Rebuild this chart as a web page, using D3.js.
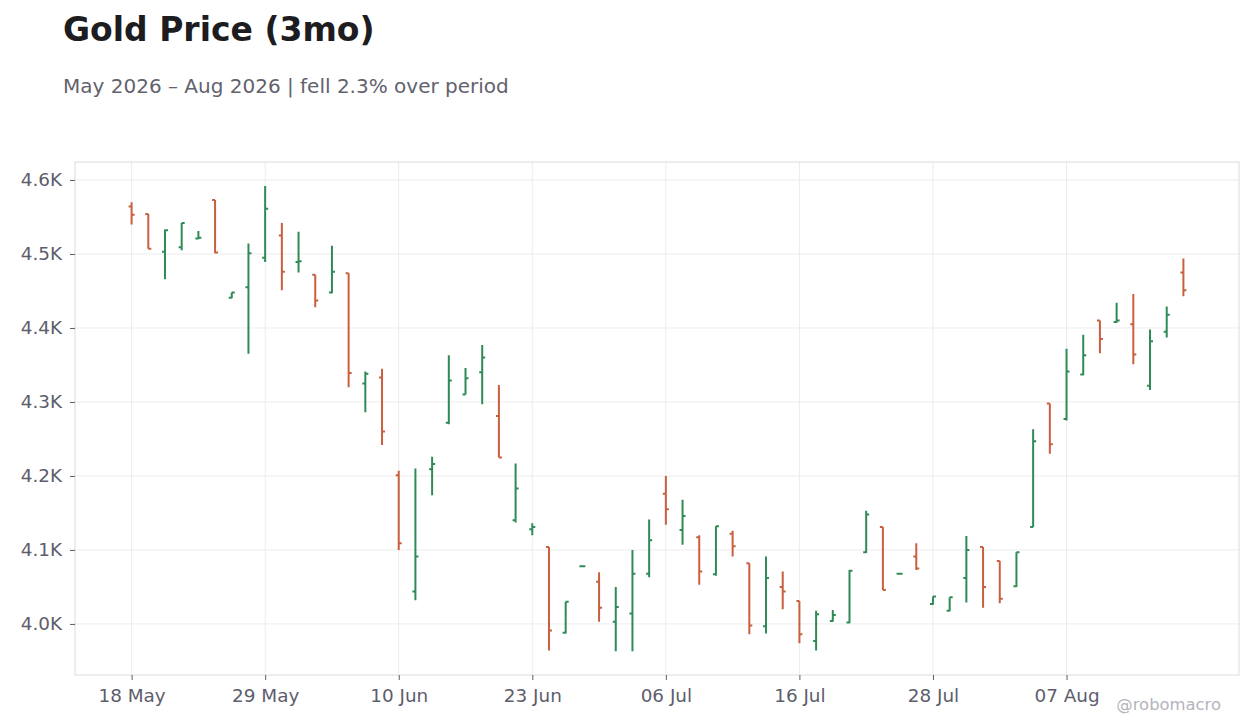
<!DOCTYPE html>
<html>
<head>
<meta charset="utf-8">
<title>Gold Price (3mo)</title>
<script src="https://cdn.jsdelivr.net/npm/d3@7"></script>
<style>
  body { margin: 0; background: #fff; font-family: "DejaVu Sans", sans-serif; }
  .title { font-size: 33px; font-weight: bold; fill: #1c1c21; }
  .subtitle { font-size: 20px; fill: #62626e; }
  .axis text { font-size: 18.4px; fill: #5d5e6c; font-family: "DejaVu Sans", sans-serif; }
  .axis line { stroke: #5d5e6c; }
  .grid line { stroke: #ececec; }
  .watermark { font-size: 16.4px; fill: #b4b4bc; }
</style>
</head>
<body>
<svg id="chart"></svg>
<script>
// trading days (weekends and US holidays skipped)
const dates = [
  '2026-05-18','2026-05-19','2026-05-20','2026-05-21','2026-05-22','2026-05-26','2026-05-27','2026-05-28',
  '2026-05-29','2026-06-01','2026-06-02','2026-06-03','2026-06-04','2026-06-05','2026-06-08','2026-06-09',
  '2026-06-10','2026-06-11','2026-06-12','2026-06-15','2026-06-16','2026-06-17','2026-06-18','2026-06-22',
  '2026-06-23','2026-06-24','2026-06-25','2026-06-26','2026-06-29','2026-06-30','2026-07-01','2026-07-02',
  '2026-07-06','2026-07-07','2026-07-08','2026-07-09','2026-07-10','2026-07-13','2026-07-14','2026-07-15',
  '2026-07-16','2026-07-17','2026-07-20','2026-07-21','2026-07-22','2026-07-23','2026-07-24','2026-07-27',
  '2026-07-28','2026-07-29','2026-07-30','2026-07-31','2026-08-03','2026-08-04','2026-08-05','2026-08-06',
  '2026-08-07','2026-08-10','2026-08-11','2026-08-12','2026-08-13','2026-08-14','2026-08-17','2026-08-18'
];

const opens = [
  4564, 4554, 4503, 4509, 4521, 4573, 4441, 4455, 4495, 4525, 4489, 4472, 4448, 4474, 4325, 4333,
  4201, 4044, 4209, 4272, 4310, 4340, 4281, 4140, 4128, 4104, 3988, 4078, 4057, 4003, 4014, 4068,
  4176, 4127, 4117, 4067, 4122, 4082, 3997, 4050, 4031, 3977, 4004, 4002, 4097, 4131, 4068, 4091,
  4027, 4018, 4062, 4104, 4085, 4051, 4131, 4298, 4277, 4337, 4410, 4408, 4405, 4322, 4395, 4475
];
const highs = [
  4570, 4554, 4533, 4542, 4531, 4573, 4448, 4514, 4592, 4542, 4530, 4472, 4511, 4474, 4341, 4345,
  4207, 4210, 4226, 4363, 4346, 4377, 4323, 4217, 4136, 4104, 4030, 4079, 4070, 4050, 4100, 4141,
  4200, 4168, 4120, 4132, 4126, 4082, 4091, 4071, 4031, 4018, 4019, 4073, 4153, 4131, 4069, 4109,
  4037, 4036, 4119, 4104, 4085, 4097, 4263, 4298, 4372, 4391, 4410, 4434, 4446, 4398, 4429, 4494
];
const lows = [
  4540, 4507, 4466, 4505, 4520, 4501, 4440, 4365, 4489, 4451, 4475, 4428, 4447, 4320, 4286, 4242,
  4100, 4032, 4174, 4270, 4310, 4297, 4225, 4137, 4120, 3964, 3987, 4077, 4003, 3963, 3963, 4063,
  4134, 4107, 4053, 4065, 4091, 3986, 3987, 4020, 3974, 3964, 4003, 4001, 4096, 4046, 4067, 4073,
  4026, 4017, 4029, 4022, 4028, 4050, 4131, 4230, 4275, 4336, 4366, 4407, 4351, 4316, 4387, 4443
];
const closes = [
  4553, 4507, 4532, 4542, 4522, 4502, 4448, 4501, 4561, 4476, 4490, 4437, 4476, 4339, 4338, 4260,
  4109, 4091, 4216, 4329, 4332, 4360, 4225, 4183, 4131, 3991, 4030, 4078, 4022, 4023, 4068, 4113,
  4155, 4146, 4071, 4132, 4105, 3998, 4062, 4044, 3986, 4013, 4012, 4072, 4148, 4046, 4068, 4075,
  4037, 4036, 4100, 4050, 4034, 4097, 4247, 4243, 4341, 4363, 4385, 4410, 4364, 4382, 4418, 4451
];

const yTicks = [4000, 4100, 4200, 4300, 4400, 4500, 4600];
const xTickEvery = 8;

const upColor = '#2e8b57';
const downColor = '#c8603f';

const width = 1260, height = 728;
const margin = {top: 162, right: 21, bottom: 53, left: 75};
const innerW = width - margin.left - margin.right;
const innerH = height - margin.top - margin.bottom;

const parseDate = d3.timeParse('%Y-%m-%d');
const fmtDate = d3.timeFormat('%d %b');

const bars = dates.map((d, i) => ({
  i: i,
  date: parseDate(d),
  open: opens[i], high: highs[i], low: lows[i], close: closes[i]
}));

const svg = d3.select('#chart')
    .attr('width', width)
    .attr('height', height);

svg.append('text')
    .attr('class', 'title')
    .attr('x', 63)
    .attr('y', 40.5)
    .text('Gold Price (3mo)');

svg.append('text')
    .attr('class', 'subtitle')
    .attr('x', 63)
    .attr('y', 92.5)
    .text('May 2026 – Aug 2026 | fell 2.3% over period');

// x is a position over trading days, so weekends leave no gaps
const xScale = d3.scaleLinear()
    .domain([-3.39, dates.length - 1 + 3.33])
    .range([0, innerW]);

const yScale = d3.scaleLinear()
    .domain([3931, 4624.3])
    .range([innerH, 0]);

const chart = svg.append('g')
    .attr('transform', `translate(${margin.left},${margin.top})`);

const tickIdx = d3.range(0, dates.length, xTickEvery);

// gridlines
chart.append('g')
    .attr('class', 'grid')
    .selectAll('line.h')
    .data(yTicks)
  .join('line')
    .attr('x1', 0)
    .attr('x2', innerW)
    .attr('y1', d => yScale(d))
    .attr('y2', d => yScale(d));

chart.append('g')
    .attr('class', 'grid')
    .selectAll('line.v')
    .data(tickIdx)
  .join('line')
    .attr('x1', d => xScale(d))
    .attr('x2', d => xScale(d))
    .attr('y1', 0)
    .attr('y2', innerH);

// frame
chart.append('rect')
    .attr('x', 0)
    .attr('y', 0)
    .attr('width', innerW)
    .attr('height', innerH)
    .attr('fill', 'none')
    .attr('stroke', '#dcdcdc');

const xAxis = d3.axisBottom(xScale)
    .tickValues(tickIdx)
    .tickSize(5)
    .tickPadding(8.5)
    .tickFormat(i => fmtDate(bars[i].date));

const yAxis = d3.axisLeft(yScale)
    .tickValues(yTicks)
    .tickSize(5)
    .tickPadding(8)
    .tickFormat(d => (d / 1000).toFixed(1) + 'K');

chart.append('g')
    .attr('class', 'axis x-axis')
    .attr('transform', `translate(0,${innerH})`)
    .call(xAxis)
    .call(g => g.select('.domain').remove());

chart.append('g')
    .attr('class', 'axis y-axis')
    .call(yAxis)
    .call(g => g.select('.domain').remove());

// OHLC bars: open tick left, close tick right
const tw = 3;
chart.append('g')
    .selectAll('path.bar')
    .data(bars)
  .join('path')
    .attr('class', 'bar')
    .attr('fill', 'none')
    .attr('stroke-width', 2)
    .attr('stroke', d => d.close >= d.open ? upColor : downColor)
    .attr('d', d => {
      const x = xScale(d.i);
      return `M${x - tw},${yScale(d.open)}H${x}` +
             `M${x},${yScale(d.high)}V${yScale(d.low)}` +
             `M${x},${yScale(d.close)}H${x + tw}`;
    });

svg.append('text')
    .attr('class', 'watermark')
    .attr('x', 1221)
    .attr('y', 710)
    .attr('text-anchor', 'end')
    .text('@robomacro');
</script>
</body>
</html>
